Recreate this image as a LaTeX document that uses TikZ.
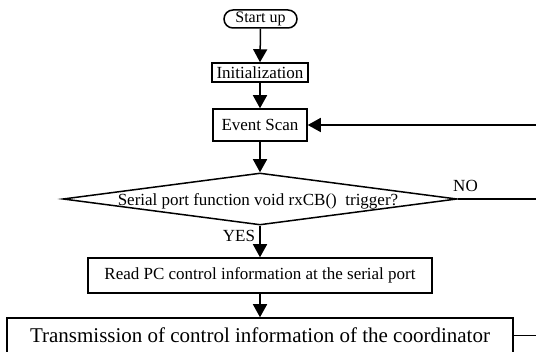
\documentclass[tikz,border=0pt]{standalone}
\usepackage{fontspec}
\setmainfont{Liberation Serif}
\usetikzlibrary{arrows.meta,shapes.geometric}
\begin{document}
\begin{tikzpicture}[x=1pt,y=-1pt,
  box/.style={draw,line width=1.5pt,inner sep=0pt,font=\fontsize{17}{20}\selectfont},
  pill/.style={draw,line width=1.5pt,inner sep=0pt,rounded corners=9pt,font=\fontsize{16}{19}\selectfont},
  dia/.style={draw,diamond,line width=1.5pt,inner sep=0pt},
  txt/.style={inner sep=0pt,font=\fontsize{17}{20}\selectfont},
  conn/.style={line width=1.5pt,-{Triangle[length=13pt,width=14pt]}},
  plain/.style={line width=1.5pt}]
\useasboundingbox (0,0) rectangle (536,352);
\node[pill,minimum width=73pt,minimum height=18pt] (start) at (260.5,19) {Start up};
\node[box,minimum width=96pt,minimum height=19pt] (init) at (260,72.5) {Initialization};
\node[box,minimum width=94pt,minimum height=32pt] (event) at (260,125) {Event Scan};
\node[dia,minimum width=394pt,minimum height=52pt] (dec) at (260,199) {};
\node[txt] (dectext) at (258,201) {Serial port function void rxCB()\ \ trigger?};
\node[box,minimum width=344pt,minimum height=35pt] (read) at (260,275.5) {Read PC control information at the serial port};
\node[box,minimum width=506pt,minimum height=35pt,font=\fontsize{21}{24}\selectfont] (trans) at (260,335.5) {Transmission of control information of the coordinator};
\node[txt] (no) at (465.5,186) {NO};
\node[txt] (yes) at (239,236) {YES};
\coordinate (r1) at (536,125);
\coordinate (r2) at (536,199);
\coordinate (r3) at (536,335.5);
\draw[conn] (start.south) -- (init.north);
\draw[conn] (init.south) -- (event.north);
\draw[conn] (event.south) -- (dec.north);
\draw[conn] (dec.south) -- (read.north);
\draw[conn] (read.south) -- (trans.north);
\draw[conn] (r1) -- (event.east);
\draw[plain] (dec.east) -- (r2);
\draw[plain] (trans.east) -- (r3);
\end{tikzpicture}
\end{document}
